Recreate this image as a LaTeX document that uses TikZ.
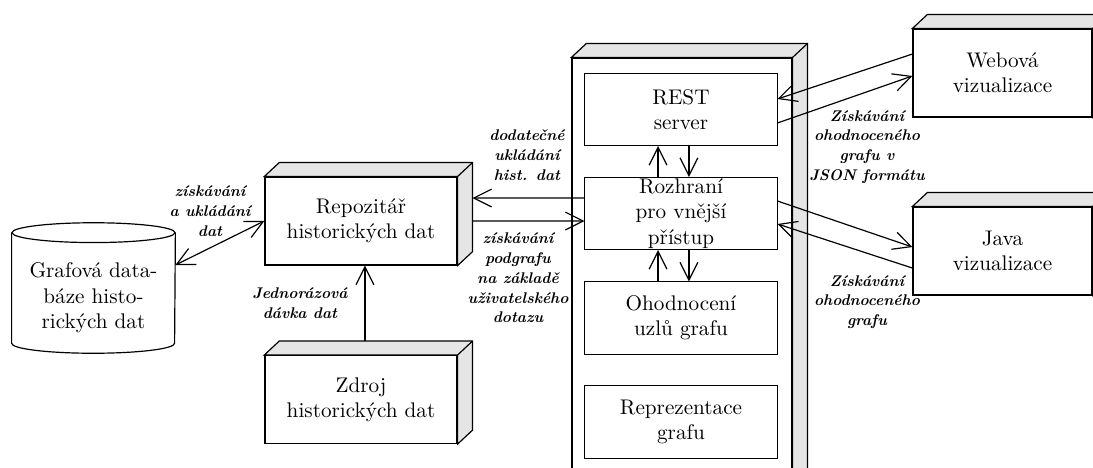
\documentclass[tikz,border=0pt]{standalone}
\usepackage{tikz}
\usetikzlibrary{arrows.meta}

\definecolor{sidegray}{gray}{0.9}
\newcommand{\dpx}{7.5pt}
\newcommand{\dpy}{7pt}
\newcommand{\boxfont}{\fontsize{10.7}{12.8}\selectfont}

% top and side face of a 3D box
\newcommand{\boxfaces}[1]{%
  \draw[semithick, fill=sidegray] (#1.north west) -- ++(\dpx,\dpy)
    -- ([shift={(\dpx,\dpy)}]#1.north east) -- ([shift={(\dpx,\dpy)}]#1.south east)
    -- (#1.south east) -- (#1.north east) -- cycle;
  \draw[semithick] (#1.north east) -- ++(\dpx,\dpy);}

\tikzset{
  box/.style={draw, semithick, fill=white, align=center, font=\boxfont, minimum width=97pt, minimum height=44.4pt},
  part/.style={draw, line width=0.5pt, fill=white, align=center, font=\boxfont, inner ysep=0pt, minimum width=97pt, minimum height=36.4pt},
  lbl/.style={font={\fontsize{7.8}{10}\selectfont\bfseries\itshape}, align=center, inner sep=1pt},
  arr/.style={semithick, -{Straight Barb[length=9pt,width=9pt]}},
  both/.style={semithick, {Straight Barb[length=9pt,width=9pt]}-{Straight Barb[length=9pt,width=9pt]}},
}

\begin{document}
\begin{tikzpicture}[x=0.505pt, y=-0.505pt]

                \useasboundingbox (0,0) rectangle (1093,468);
                \clip (0,0) rectangle (1093,468);

                % database
                \node[minimum width=82.3pt, minimum height=55.5pt] (db) at (93.5,288) {};
                \draw[semithick] (db.north west) -- (db.south west)
                    arc[start angle=180, end angle=360, x radius=41.15pt, y radius=5pt] -- (db.north east);
                \draw[semithick] (db.north) ellipse [x radius=41.15pt, y radius=5pt];
                \node[align=center, font=\boxfont] (dbtext) at ([yshift=-5pt]db.center) {Grafová data-\\báze histo-\\rických dat};

                % repository and source
                \node[box] (repo) at (361,221) {Repozitář\\historických dat};
                \boxfaces{repo}
                \node[box] (zdroj) at (361,399.5) {Zdroj\\historických dat};
                \boxfaces{zdroj}

                % server component
                \node[box, minimum width=111.1pt, minimum height=223.2pt] (comp) at (682,279) {};
                \boxfaces{comp}
                \node[part] (rest) at (681,109.5) {REST\\server};
                \node[part] (rozh) at (681,213.5) {Rozhraní\\pro vnější\\přístup};
                \node[part] (ohod) at (681,318) {Ohodnocení\\uzlů grafu};
                \node[part] (repr) at (681,422) {Reprezentace\\grafu};

                % clients
                \node[box, minimum width=90.4pt] (web) at (1002.5,73) {Webová\\vizualizace};
                \boxfaces{web}
                \node[box, minimum width=90.4pt] (java) at (1002.5,251) {Java\\vizualizace};
                \boxfaces{java}

                % connectors
                \draw[both] (repo.west) -- ([yshift=11.6pt]db.east);
                \draw[arr] ([shift={(2pt,\dpy)}]zdroj.north) -- ([xshift=2pt]repo.south);
                \draw[arr] ([yshift=7.8pt]rozh.west) -- ([shift={(\dpx,11.6pt)}]repo.east);
                \draw[arr] ([xshift=\dpx]repo.east) -- ([yshift=-3.8pt]rozh.west);

                \draw[arr] ([xshift=-11.6pt]rozh.north) -- ([xshift=-11.6pt]rest.south);
                \draw[arr] ([xshift=4pt]rest.south) -- ([xshift=4pt]rozh.north);
                \draw[arr] ([xshift=-11.6pt]ohod.north) -- ([xshift=-11.6pt]rozh.south);
                \draw[arr] ([xshift=4pt]rozh.south) -- ([xshift=4pt]ohod.north);

                \draw[arr] ([yshift=9.6pt]web.west) -- ([yshift=5.3pt]rest.east);
                \draw[arr] ([yshift=-6.8pt]rest.east) -- ([yshift=-1.5pt]web.west);
                \draw[arr] ([yshift=6.3pt]rozh.east) -- ([yshift=2pt]java.west);
                \draw[arr] ([yshift=-8.6pt]java.west) -- ([yshift=-5.3pt]rozh.east);

                % labels
                \node[lbl] (ldb) at (210,211) {získávání\\a ukládání\\dat};
                \node[lbl] (lzdroj) at (300,303) {Jednorázová\\dávka dat};
                \node[lbl] (lstore) at (527,155) {dodatečné\\ukládání\\hist. dat};
                \node[lbl] (lquery) at (518,278) {získávání\\podgrafu\\na základě\\uživatelského\\dotazu};
                \node[lbl] (lweb) at (867,147) {Získávání\\ohodnoceného\\grafu v\\JSON formátu};
                \node[lbl] (ljava) at (867,302) {Získávání\\ohodnoceného\\grafu};
            \end{tikzpicture}
\end{document}
